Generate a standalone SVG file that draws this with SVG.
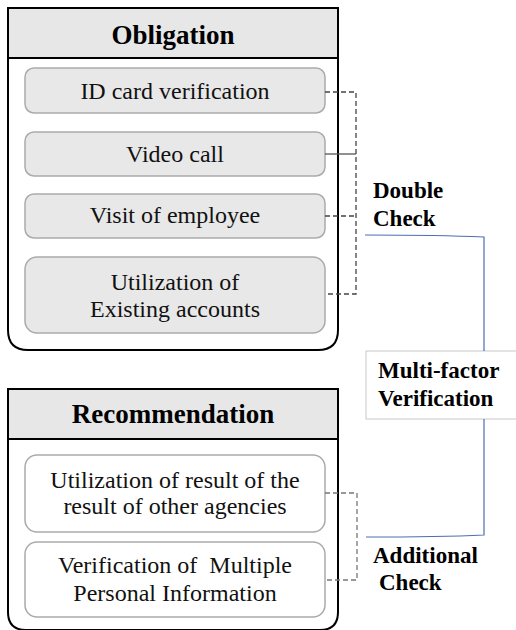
<svg xmlns="http://www.w3.org/2000/svg" width="516" height="630" viewBox="0 0 516 630">
<style>
.outer{fill:#ffffff;stroke:#000;stroke-width:2}
.hdr{fill:#e7e7e7;stroke:#000;stroke-width:2}
.item{fill:#e8e8e8;stroke:#aaaaaa;stroke-width:1.5}
.item2{fill:#ffffff;stroke:#aaaaaa;stroke-width:1.5}
.dash{fill:none;stroke:#444;stroke-width:1.3;stroke-dasharray:5,3}
.dash2{fill:none;stroke:#777;stroke-width:1.3;stroke-dasharray:5,3}
.blue{fill:none;stroke:#4a6fb5;stroke-width:1.2}
</style>
<g font-family="Liberation Serif, serif">
<g id="obligation">
<path class="outer" d="M8 8 H338 V330 Q338 350 318 350 H28 Q8 350 8 330 Z"/>
<rect class="hdr" x="8" y="8" width="330" height="50"/>
<text x="173" y="44" font-size="27" font-weight="bold" text-anchor="middle">Obligation</text>
</g>
<g id="id-card" font-size="24" text-anchor="middle" fill="#111">
<rect class="item" x="25" y="68" width="300" height="45" rx="9"/>
<text x="175" y="99">ID card verification</text>
</g>
<g id="video-call" font-size="24" text-anchor="middle" fill="#111">
<rect class="item" x="25" y="132" width="300" height="44" rx="9"/>
<text x="175" y="162">Video call</text>
</g>
<g id="visit" font-size="24" text-anchor="middle" fill="#111">
<rect class="item" x="25" y="194" width="300" height="44" rx="9"/>
<text x="175" y="223">Visit of employee</text>
</g>
<g id="existing" font-size="24" text-anchor="middle" fill="#111">
<rect class="item" x="25" y="257" width="300" height="76" rx="12"/>
<text x="175" y="290">Utilization of</text>
<text x="175" y="317">Existing accounts</text>
</g>
<g id="recommendation">
<path class="outer" d="M8 389 H338 V612 Q338 630 320 630 H26 Q8 630 8 612 Z"/>
<rect class="hdr" x="8" y="389" width="330" height="50"/>
<text x="173" y="423" font-size="27" font-weight="bold" text-anchor="middle">Recommendation</text>
</g>
<g id="other-agencies" font-size="24" text-anchor="middle" fill="#111">
<rect class="item2" x="25" y="455" width="300" height="77" rx="12"/>
<text x="175" y="488">Utilization of result of the</text>
<text x="175" y="514">result of other agencies</text>
</g>
<g id="multiple-info" font-size="24" text-anchor="middle" fill="#111">
<rect class="item2" x="25" y="542" width="300" height="75" rx="12"/>
<text x="175" y="573" xml:space="preserve">Verification of  Multiple</text>
<text x="175" y="601">Personal Information</text>
</g>
<g id="multi-factor" font-size="23" font-weight="bold">
<rect x="366" y="351" width="152" height="68" fill="#fff" stroke="#c8c8c8" stroke-width="1"/>
<text x="378" y="378">Multi-factor</text>
<text x="378" y="406">Verification</text>
</g>
<g id="labels" font-size="23" font-weight="bold">
<text x="373" y="198">Double</text>
<text x="373" y="226">Check</text>
<text x="373" y="563">Additional</text>
<text x="379" y="590">Check</text>
</g>
</g>
<g id="connectors">
<path class="dash" d="M325 92 H356 V294 H325"/>
<path class="dash" d="M325 216 H356"/>
<path d="M325 154 H356" fill="none" stroke="#555" stroke-width="1.3"/>
<path class="dash2" d="M325 493 H357 V580 H325"/>
<path class="blue" d="M365 235 Q440 235 484 237 V351"/>
<path class="blue" d="M484 419 V535 Q440 537 366 537"/>
</g>
</svg>
